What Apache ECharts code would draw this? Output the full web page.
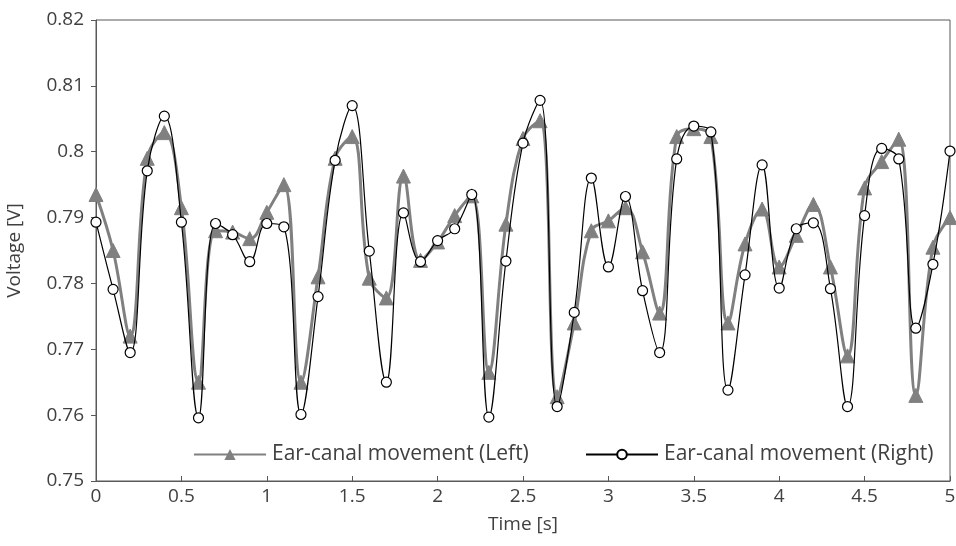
<!DOCTYPE html>
<html>
<head>
<meta charset="utf-8">
<script src="https://cdn.jsdelivr.net/npm/echarts@6/dist/echarts.min.js"></script>
<style>html,body{margin:0;padding:0;background:#fff}#c{width:956px;height:546px}</style>
</head>
<body>
<div id="c"></div>
<script>
var times = [0,0.1,0.2,0.3,0.4,0.5,0.6,0.7,0.8,0.9,1.0,1.1,1.2,1.3,1.4,1.5,1.6,1.7,1.8,1.9,2.0,2.1,2.2,2.3,2.4,2.5,2.6,2.7,2.8,2.9,3.0,3.1,3.2,3.3,3.4,3.5,3.6,3.7,3.8,3.9,4.0,4.1,4.2,4.3,4.4,4.5,4.6,4.7,4.8,4.9,5.0];
var leftValues = [0.7935,0.785,0.772,0.799,0.8029,0.7915,0.765,0.788,0.7878,0.7868,0.7908,0.795,0.765,0.781,0.799,0.8023,
  0.7808,0.7778,0.7963,0.7835,0.7863,0.7903,0.7933,0.7665,0.789,0.802,0.8047,0.7628,0.774,0.788,0.7895,
  0.7915,0.7848,0.7755,0.8023,0.8035,0.8023,0.774,0.786,0.7913,0.7825,0.7873,0.792,0.7825,0.769,0.7945,0.7985,0.8019,0.763,0.7855,0.790];
var rightValues = [0.7893,0.7791,0.7695,0.7971,0.8054,0.7893,0.7596,0.7891,0.7874,0.7833,0.7891,0.7886,0.7601,0.778,0.7987,0.807,
  0.7849,0.765,0.7907,0.7833,0.7865,0.7883,0.7935,0.7597,0.7834,0.8013,0.8078,0.7613,0.7756,0.796,0.7825,
  0.7932,0.7789,0.7695,0.7989,0.8039,0.803,0.7638,0.7813,0.798,0.7793,0.7883,0.7892,0.7792,0.7613,0.7903,0.8005,0.7989,0.7732,0.7829,0.8001];
var xTicks = {min:0, max:5, interval:0.5};
var yTicks = {min:0.75, max:0.82, interval:0.01};
var seriesNames = ['Ear-canal movement (Left)','Ear-canal movement (Right)'];

function pairs(vals){ return times.map(function(t,i){ return [t, vals[i]]; }); }

var chart = echarts.init(document.getElementById('c'));
var font = 'Open Sans';
var txt = '#404040';
var axc = '#595959';
chart.setOption({
  animation:false,
  backgroundColor:'#fff',
  grid:{left:96, right:6, top:20, bottom:65, show:true, borderColor:axc, borderWidth:1,
        containLabel:false, outerBoundsMode:'none'},
  legend:[
    {data:[seriesNames[0]], left:188, top:439, itemWidth:72, itemHeight:14, itemGap:0,
     textStyle:{fontFamily:font, fontSize:21, color:txt, padding:[0,0,0,1]}},
    {data:[seriesNames[1]], left:580, top:439, itemWidth:72, itemHeight:12,
     textStyle:{fontFamily:font, fontSize:21, color:txt, padding:[0,0,0,1]}}
  ],
  xAxis:{type:'value', min:xTicks.min, max:xTicks.max, interval:xTicks.interval,
    name:'Time [s]', nameLocation:'middle', nameGap:34,
    nameTextStyle:{fontFamily:font, fontSize:19, color:txt},
    axisLine:{lineStyle:{color:axc}},
    axisTick:{inside:true, length:5, lineStyle:{color:axc}},
    axisLabel:{fontFamily:font, fontSize:19, color:txt, margin:6},
    splitLine:{show:false}},
  yAxis:{type:'value', min:yTicks.min, max:yTicks.max, interval:yTicks.interval,
    name:'Voltage [V]', nameLocation:'middle', nameGap:72,
    nameTextStyle:{fontFamily:font, fontSize:19, color:txt},
    axisLine:{show:true, lineStyle:{color:axc}},
    axisTick:{show:true, inside:false, length:5, lineStyle:{color:axc}},
    axisLabel:{fontFamily:font, fontSize:19, color:txt, margin:12},
    splitLine:{show:false}},
  series:[
    {name:seriesNames[0], type:'line', data:pairs(leftValues), smooth:0.4,
     symbol:'triangle', symbolSize:14,
     lineStyle:{color:'#808080', width:3},
     itemStyle:{color:'#808080', borderColor:'#808080'}, z:2},
    {name:seriesNames[1], type:'line', data:pairs(rightValues), smooth:0.4,
     symbol:'circle', symbolSize:10,
     lineStyle:{color:'#000', width:1.2},
     itemStyle:{color:'#fff', borderColor:'#000', borderWidth:1.2}, z:3}
  ]
});
</script>
</body>
</html>
